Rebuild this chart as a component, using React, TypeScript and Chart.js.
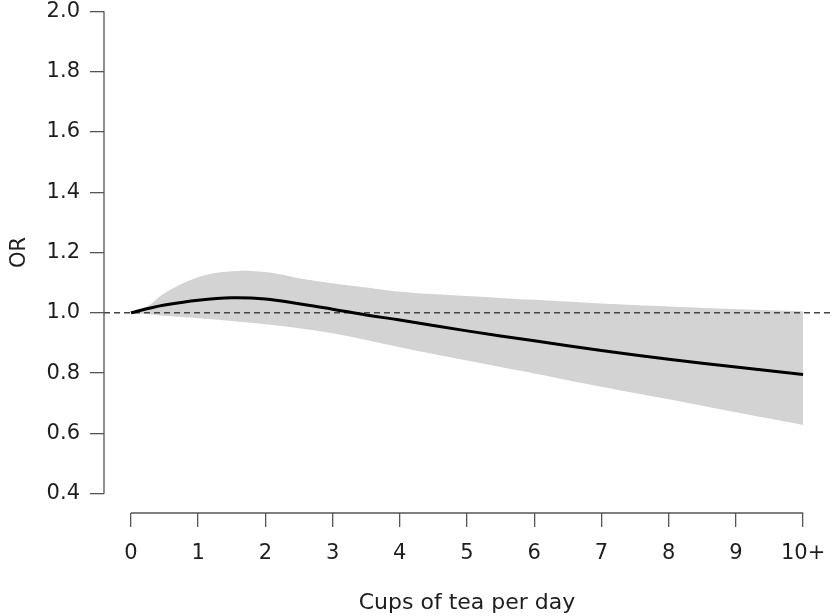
import React, { useEffect, useRef } from "react";
import { Chart, registerables } from "chart.js";

Chart.register(...registerables);

// Cups of tea per day (10 = "10+")
const xPoints = [0, 0.25, 0.5, 1, 1.5, 2, 2.5, 3, 3.5, 4, 5, 6, 7, 8, 9, 10];
const orValues = [1.0, 1.014, 1.026, 1.042, 1.05, 1.046, 1.03, 1.012, 0.993, 0.976, 0.94, 0.907, 0.875, 0.846, 0.82, 0.795];
const upperCI = [1.0, 1.022, 1.065, 1.118, 1.138, 1.135, 1.115, 1.098, 1.084, 1.07, 1.056, 1.043, 1.031, 1.021, 1.012, 1.005];
const lowerCI = [1.0, 0.995, 0.99, 0.982, 0.973, 0.962, 0.949, 0.932, 0.91, 0.886, 0.842, 0.799, 0.755, 0.713, 0.67, 0.628];
const referenceX = [-0.4, 10.4];
const referenceY = [1.0, 1.0];
const xTicks = [0, 1, 2, 3, 4, 5, 6, 7, 8, 9, 10];
const xTickLabels = ["0", "1", "2", "3", "4", "5", "6", "7", "8", "9", "10+"];
const yTicks = [0.4, 0.6, 0.8, 1.0, 1.2, 1.4, 1.6, 1.8, 2.0];
const yTickLabels = ["0.4", "0.6", "0.8", "1.0", "1.2", "1.4", "1.6", "1.8", "2.0"];

const FONT = "'DejaVu Sans', sans-serif";
const AXIS_COLOR = "#555555";
const TEXT_COLOR = "#1e1e1e";

const toPts = (xs: number[], ys: number[]) => xs.map((x, i) => ({ x, y: ys[i] }));

const axisLinesPlugin = {
  id: "rAxisLines",
  afterDraw(chart: any) {
    const { ctx, scales } = chart;
    const xs = scales.x;
    const ys = scales.y;
    ctx.save();
    ctx.strokeStyle = AXIS_COLOR;
    ctx.lineWidth = 1.3;
    ctx.beginPath();
    const left = chart.chartArea.left;
    ctx.moveTo(left, ys.getPixelForValue(yTicks[0]));
    ctx.lineTo(left, ys.getPixelForValue(yTicks[yTicks.length - 1]));
    const bottom = chart.chartArea.bottom;
    ctx.moveTo(xs.getPixelForValue(xTicks[0]), bottom);
    ctx.lineTo(xs.getPixelForValue(xTicks[xTicks.length - 1]), bottom);
    ctx.stroke();
    ctx.restore();
  },
};

export default function App() {
  const ref = useRef<HTMLCanvasElement | null>(null);

  useEffect(() => {
    if (!ref.current) return;
    const chart = new Chart(ref.current, {
      type: "line",
      data: {
        datasets: [
          {
            label: "upper",
            data: toPts(xPoints, upperCI),
            borderWidth: 0,
            borderColor: "rgba(0,0,0,0)",
            backgroundColor: "#d3d3d3",
            pointRadius: 0,
            fill: "+1",
            tension: 0.4,
            order: 3,
          },
          {
            label: "lower",
            data: toPts(xPoints, lowerCI),
            borderWidth: 0,
            borderColor: "rgba(0,0,0,0)",
            backgroundColor: "#d3d3d3",
            pointRadius: 0,
            fill: false,
            tension: 0.4,
            order: 4,
          },
          {
            label: "reference",
            data: toPts(referenceX, referenceY),
            borderWidth: 1.5,
            borderColor: "#444444",
            borderDash: [6, 4],
            pointRadius: 0,
            fill: false,
            order: 1,
          },
          {
            label: "OR",
            data: toPts(xPoints, orValues),
            borderWidth: 3,
            borderColor: "#000000",
            pointRadius: 0,
            fill: false,
            tension: 0.4,
            order: 0,
          },
        ],
      },
      options: {
        animation: false,
        responsive: false,
        events: [],
        layout: { padding: { left: 0, top: 30, right: 70, bottom: 42 } },
        plugins: {
          legend: { display: false },
          tooltip: { enabled: false },
        },
        scales: {
          x: {
            type: "linear",
            min: -0.4,
            max: 10.4,
            afterBuildTicks: (s: any) => {
              s.ticks = xTicks.map((v) => ({ value: v }));
            },
            afterFit: (s: any) => {
              s.height = 107;
            },
            ticks: {
              autoSkip: false,
              maxRotation: 0,
              padding: 14,
              color: TEXT_COLOR,
              font: { family: FONT, size: 21 },
              callback: (v: any) => xTickLabels[xTicks.indexOf(Number(v))] ?? "",
            },
            grid: {
              display: true,
              drawOnChartArea: false,
              drawTicks: true,
              tickLength: 14,
              color: AXIS_COLOR,
              lineWidth: 1.3,
            },
            border: { display: false },
            title: {
              display: true,
              text: "Cups of tea per day",
              color: TEXT_COLOR,
              font: { family: FONT, size: 22 },
              padding: { top: 0, bottom: 4 },
            },
          },
          y: {
            type: "linear",
            min: 0.336,
            max: 2.064,
            afterBuildTicks: (s: any) => {
              s.ticks = yTicks.map((v) => ({ value: v }));
            },
            afterFit: (s: any) => {
              s.width = 104;
            },
            ticks: {
              autoSkip: false,
              padding: 10,
              color: TEXT_COLOR,
              font: { family: FONT, size: 21 },
              callback: (v: any) => {
                const i = yTicks.findIndex((t) => Math.abs(t - Number(v)) < 1e-6);
                return i >= 0 ? yTickLabels[i] : "";
              },
            },
            grid: {
              display: true,
              drawOnChartArea: false,
              drawTicks: true,
              tickLength: 14,
              color: AXIS_COLOR,
              lineWidth: 1.3,
            },
            border: { display: false },
            title: {
              display: true,
              text: "OR",
              color: TEXT_COLOR,
              font: { family: FONT, size: 21 },
              padding: { top: 7, bottom: 0 },
            },
          },
        },
      },
      plugins: [axisLinesPlugin],
    });
    return () => chart.destroy();
  }, []);

  return (
    <div
      style={{
        position: "fixed",
        left: 0,
        top: 0,
        width: 833,
        height: 616,
        overflow: "hidden",
        background: "#ffffff",
      }}
    >
      <canvas
        ref={ref}
        width={900}
        height={700}
        style={{ position: "absolute", left: 0, top: -38, width: 900, height: 700 }}
      />
    </div>
  );
}
